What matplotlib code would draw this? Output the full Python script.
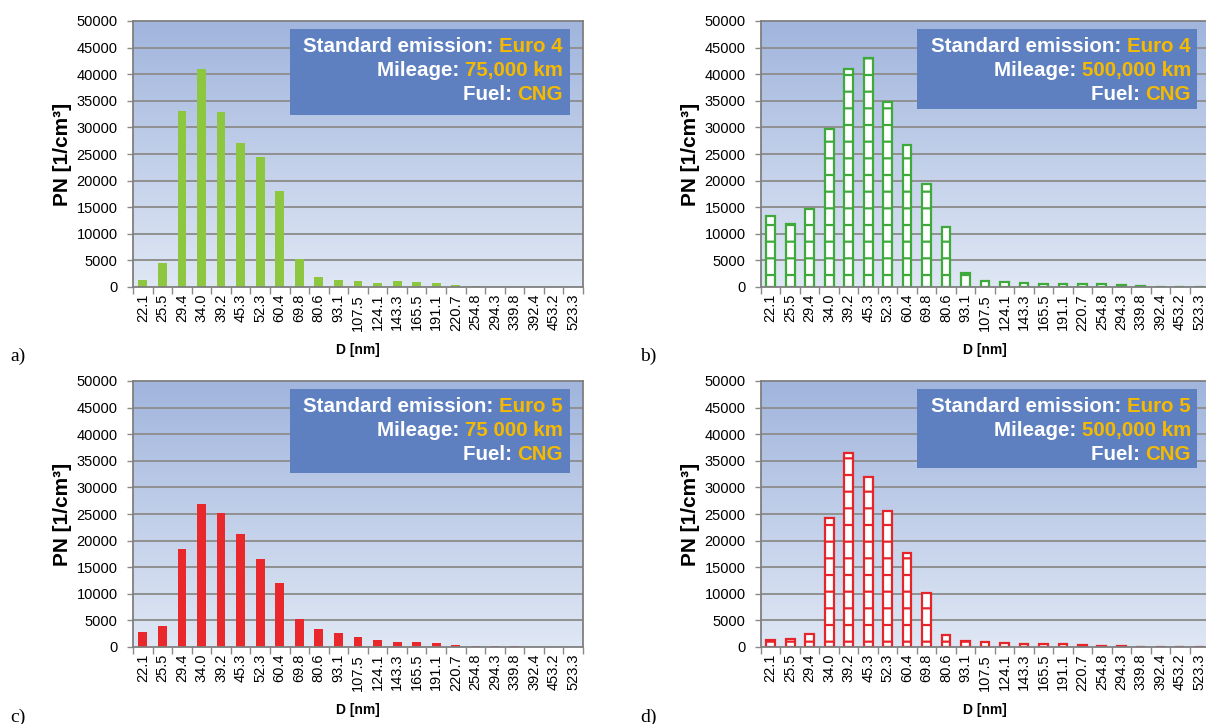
import numpy as np
import matplotlib.pyplot as plt
from matplotlib.colors import LinearSegmentedColormap
from matplotlib.patches import Rectangle

plt.rcParams['font.family'] = ['Liberation Sans', 'DejaVu Sans']
plt.rcParams['hatch.linewidth'] = 1.6

# Particle diameter classes [nm]
diameters = ['22.1', '25.5', '29.4', '34.0', '39.2', '45.3', '52.3', '60.4',
             '69.8', '80.6', '93.1', '107.5', '124.1', '143.3', '165.5',
             '191.1', '220.7', '254.8', '294.3', '339.8', '392.4', '453.2',
             '523.3']

# Particle number concentration [1/cm3]
pn_euro4_75k = [1300, 4600, 33100, 40900, 32900, 27000, 24500, 18000, 5300,
                1800, 1400, 1050, 800, 1050, 1000, 750, 450, 250, 60, 40, 30,
                30, 30]
pn_euro4_500k = [13300, 11800, 14600, 29700, 41000, 43100, 34700, 26700,
                 19300, 11300, 2700, 1100, 900, 700, 500, 600, 600, 500, 300,
                 150, 50, 50, 50]
pn_euro5_75k = [2900, 3900, 18400, 26800, 25200, 21300, 16600, 12000, 5300,
                3400, 2700, 1950, 1250, 1000, 1000, 800, 450, 250, 120, 100,
                50, 50, 50]
pn_euro5_500k = [1300, 1500, 2450, 24200, 36500, 31900, 25600, 17600, 10100,
                 2200, 1050, 950, 750, 500, 500, 500, 400, 250, 120, 50, 50,
                 50, 50]

W, H = 1206, 724
fig = plt.figure(figsize=(W / 100, H / 100), dpi=100)
fig.patch.set_facecolor('white')

bg_cmap = LinearSegmentedColormap.from_list('bg', ['#DFE7F4', '#A1B5DD'])
GREEN_FILL = '#8DC63F'
GREEN_EDGE = '#3DAA3A'
RED_FILL = '#E8282B'
RED_EDGE = '#E5252A'
BOX = '#5E80C0'
YELLOW = '#F5B900'


def px_axes(left, top, right, bottom):
    return fig.add_axes([left / W, 1 - bottom / H, (right - left) / W,
                         (bottom - top) / H])


def draw_panel(ax, values, color, hollow):
    n = len(diameters)
    x = np.arange(n)
    ax.set_xlim(-0.5, n - 0.5)
    ax.set_ylim(0, 50000)
    grad = np.linspace(0, 1, 256).reshape(-1, 1)
    ax.imshow(grad, cmap=bg_cmap, aspect='auto', origin='lower',
              extent=(-0.5, n - 0.5, 0, 50000), zorder=0)
    for y in range(5000, 50000, 5000):
        ax.axhline(y, color='#909090', lw=1.4, zorder=1)
    if hollow:
        ax.bar(x, values, width=0.45, facecolor='white', edgecolor=color,
               hatch='-', linewidth=1.6, zorder=2)
    else:
        ax.bar(x, values, width=0.45, color=color, linewidth=0, zorder=2)

    ax.set_xticks(x)
    ax.set_xticklabels(diameters, rotation=90, fontsize=10.5)
    ax.set_xticks(np.arange(-0.5, n), minor=True)
    ax.tick_params(axis='x', which='major', length=0, pad=5)
    ax.tick_params(axis='x', which='minor', length=5, width=1,
                   color='#8A8A8A', direction='out')
    ax.set_yticks(range(0, 50001, 5000))
    ax.set_yticklabels([str(v) for v in range(0, 50001, 5000)], fontsize=10.5)
    ax.tick_params(axis='y', length=4, width=1, color='#8A8A8A', pad=7)
    for side, sp in ax.spines.items():
        sp.set_color('#7F7F7F')
        sp.set_linewidth(1.3)
        sp.set_zorder(3)
    ax.set_xlabel('D [nm]', fontsize=10, fontweight='bold', labelpad=9)
    ax.set_ylabel('PN [1/cm³]', fontsize=15, fontweight='bold', labelpad=3)


def info_box(left, top, right, bottom, text_right, euro, mileage):
    fig.add_artist(Rectangle((left / W, 1 - bottom / H), (right - left) / W,
                             (bottom - top) / H, transform=fig.transFigure,
                             facecolor=BOX, edgecolor='none', zorder=5))
    renderer = fig.canvas.get_renderer()
    lines = [('Standard emission: ', euro), ('Mileage: ', mileage),
             ('Fuel: ', 'CNG')]
    for i, (label, value) in enumerate(lines):
        yb = 1 - (top + 23 + 24 * i) / H
        t = fig.text(text_right / W, yb, value, color=YELLOW, fontsize=14.8,
                     fontweight='bold', ha='right', va='baseline', zorder=6)
        wpx = t.get_window_extent(renderer).width
        fig.text((text_right - wpx) / W, yb, label, color='white',
                 fontsize=14.8, fontweight='bold', ha='right', va='baseline',
                 zorder=6)


ax_a = px_axes(133, 21, 583, 287)
draw_panel(ax_a, pn_euro4_75k, GREEN_FILL, False)
ax_b = px_axes(761, 21, 1209, 287)
draw_panel(ax_b, pn_euro4_500k, GREEN_EDGE, True)
ax_c = px_axes(133, 381, 583, 647)
draw_panel(ax_c, pn_euro5_75k, RED_FILL, False)
ax_d = px_axes(761, 381, 1209, 647)
draw_panel(ax_d, pn_euro5_500k, RED_EDGE, True)

info_box(290, 29, 570, 115, 563, 'Euro 4', '75,000 km')
info_box(917, 29, 1197, 109, 1191, 'Euro 4', '500,000 km')
info_box(290, 389, 570, 473, 563, 'Euro 5', '75 000 km')
info_box(917, 389, 1197, 468, 1191, 'Euro 5', '500,000 km')

for letter, xp, yp in [('a)', 10, 356), ('b)', 640, 356),
                       ('c)', 10, 717), ('d)', 640, 717)]:
    fig.text(xp / W, 1 - yp / H, letter, fontsize=14,
             family=['Liberation Serif', 'DejaVu Serif'], ha='left',
             va='center')

fig.savefig('out.png', dpi=100)
